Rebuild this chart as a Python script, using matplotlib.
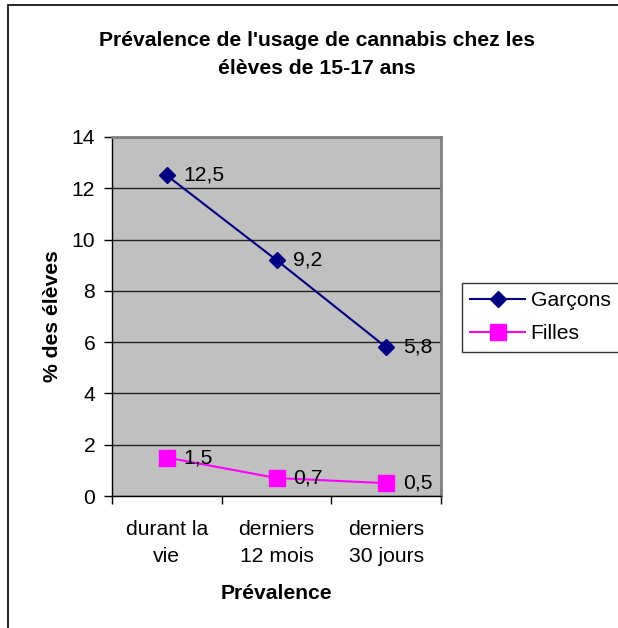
import matplotlib
matplotlib.use('Agg')
import matplotlib.pyplot as plt
from matplotlib.patches import Rectangle

plt.rcParams['font.family'] = ['Liberation Sans', 'DejaVu Sans']

categories = ['durant la\nvie', 'derniers\n12 mois', 'derniers\n30 jours']
garcons = [12.5, 9.2, 5.8]
filles = [1.5, 0.7, 0.5]
yticks = [0, 2, 4, 6, 8, 10, 12, 14]

W, H = 618, 628
fs = 15.2
fig = plt.figure(figsize=(W / 100, H / 100), dpi=100)

# outer chart frame (right and bottom edges fall outside the picture)
fig.patches.append(Rectangle((8 / W, -10 / H), (W + 10) / W, (H - 5 + 10) / H,
                             transform=fig.transFigure, fill=False,
                             edgecolor='black', linewidth=1.2))

# plot area in pixels
x0, x1, ytop, ybot = 112, 441, 137, 496
ax = fig.add_axes([x0 / W, (H - ybot) / H, (x1 - x0) / W, (ybot - ytop) / H])
ax.set_facecolor('#C0C0C0')
for s in ax.spines.values():
    s.set_color('#808080')
    s.set_linewidth(2)
ax.spines['left'].set_color('black')
ax.spines['left'].set_linewidth(1)
ax.spines['bottom'].set_color('black')
ax.spines['bottom'].set_linewidth(1)

xs = list(range(len(categories)))
ax.set_xlim(-0.5, len(categories) - 0.5)
ax.set_ylim(0, 14)
ax.set_yticks(yticks)
ax.set_yticklabels([str(v) for v in yticks], fontsize=fs)
ax.yaxis.grid(True, color='#222222', linewidth=1)
ax.set_axisbelow(True)

ax.set_xticks([x + 0.5 for x in [-1] + xs])
ax.set_xticklabels([])
ax.set_xticks(xs, minor=True)
ax.set_xticklabels(categories, minor=True, fontsize=fs, linespacing=1.55)
ax.tick_params(axis='x', which='minor', length=0, pad=17)
ax.tick_params(axis='x', which='major', length=6, width=1)
ax.tick_params(axis='y', length=6, width=1, pad=6)

ax.plot(xs, garcons, color='#000080', marker='D', markersize=8,
        linewidth=1.5, label='Garçons', clip_on=False, zorder=3)
ax.plot(xs, filles, color='#FF00FF', marker='s', markersize=11,
        linewidth=1.5, label='Filles', clip_on=False, zorder=3)

for x, v in zip(xs, garcons):
    ax.annotate(str(v).replace('.', ','), (x, v), xytext=(12, 0),
                textcoords='offset points', va='center', ha='left',
                fontsize=fs)
for x, v in zip(xs, filles):
    ax.annotate(str(v).replace('.', ','), (x, v), xytext=(12, 0),
                textcoords='offset points', va='center', ha='left',
                fontsize=fs)

ax.set_ylabel('% des élèves', fontsize=fs, fontweight='bold', labelpad=7)
ax.set_xlabel('Prévalence', fontsize=fs, fontweight='bold', labelpad=13)

fig.text(317 / W, 1 - 55 / H,
         "Prévalence de l'usage de cannabis chez les\nélèves de 15-17 ans",
         ha='center', va='center', fontsize=fs, fontweight='bold',
         linespacing=1.6)

leg = fig.legend(loc='upper left', bbox_to_anchor=(462 / W, 1 - 283 / H),
                 fontsize=fs, frameon=True, fancybox=False,
                 borderaxespad=0, handlelength=2.6, handletextpad=0.25,
                 borderpad=0.4, labelspacing=0.65)
leg.get_frame().set_edgecolor('black')
leg.get_frame().set_linewidth(1)

fig.savefig('out.png', dpi=100)
